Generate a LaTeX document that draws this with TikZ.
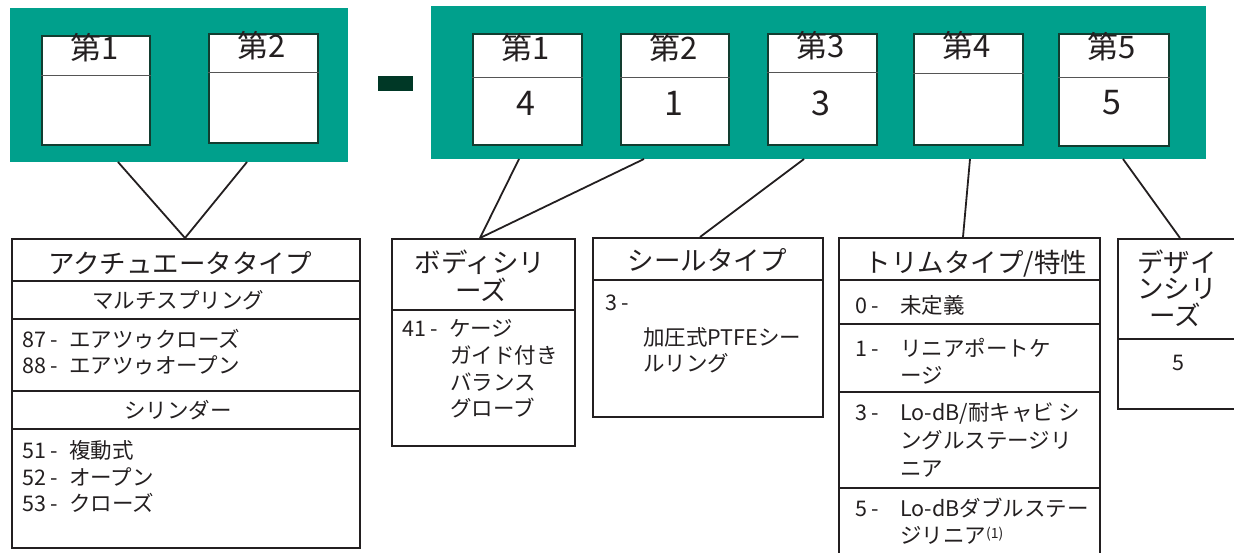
\documentclass[tikz,border=0pt]{standalone}
\usepackage{fontspec}
\setmainfont{Noto Sans CJK JP}
\definecolor{bandteal}{HTML}{00A08C}
\definecolor{boxdark}{HTML}{123D30}
\definecolor{dashgreen}{HTML}{003826}
\definecolor{ink}{HTML}{231F20}
\definecolor{divgray}{HTML}{555555}
\newcommand\itsep{ -\hspace{0.5em}}
\begin{document}
\begin{tikzpicture}[x=1pt,y=-1pt,
  txt/.style={inner sep=0pt, text=ink},
  ttl/.style={txt, font=\fontsize{26.5}{30}\selectfont, text height=23.3pt, text depth=3.2pt},
  itm/.style={txt, font=\fontsize{21.5}{26}\selectfont, text height=18.9pt, text depth=2.6pt, anchor=west},
  itmc/.style={txt, font=\fontsize{21.5}{26}\selectfont, text height=18.9pt, text depth=2.6pt},
  biglab/.style={txt, font=\fontsize{31}{34}\selectfont, text height=27.3pt, text depth=3.7pt},
  bignum/.style={txt, font=\fontsize{34}{38}\selectfont, text height=29.9pt, text depth=4.1pt},
  band/.style={fill=bandteal, draw=none, inner sep=0pt, anchor=north west},
  topbox/.style={fill=white, draw=boxdark, line width=2.2pt, inner sep=0pt, anchor=north west},
  topdiv/.style={draw=divgray, line width=1pt},
  selbox/.style={draw=ink, line width=2.4pt, inner sep=0pt, anchor=north west, fill=white},
  seldiv/.style={draw=ink, line width=1.2pt},
  conn/.style={draw=ink, line width=1.8pt}]
\useasboundingbox (0,0) rectangle (1234,552);
\clip (0,0) rectangle (1234,552);

% bands
\node[band, minimum width=338pt, minimum height=154pt] (bandL) at (10,8) {};
\node[band, minimum width=775pt, minimum height=153pt] (bandR) at (431,6) {};
\node[fill=dashgreen, inner sep=0pt, anchor=north west, minimum width=35pt, minimum height=15pt] (dash) at (378,76) {};

% top boxes (left)
\node[topbox, minimum width=108pt, minimum height=109pt] (L1) at (41,35) {};
\draw[topdiv] (L1.west |- 0,75) -- (L1.east |- 0,75);
\node[biglab] (L1t) at (95,48) {第1};
\node[topbox, minimum width=109pt, minimum height=109pt] (L2) at (208,33) {};
\draw[topdiv] (L2.west |- 0,72) -- (L2.east |- 0,72);
\node[biglab] (L2t) at (262,46) {第2};

% top boxes (right)
\node[topbox, minimum width=109pt, minimum height=111pt] (R1) at (472,33) {};
\draw[topdiv] (R1.west |- 0,77) -- (R1.east |- 0,77);
\node[biglab] (R1t) at (526,48) {第1};
\node[bignum] (R1n) at (526,103) {4};
\node[topbox, minimum width=108pt, minimum height=111pt] (R2) at (620,33) {};
\draw[topdiv] (R2.west |- 0,77) -- (R2.east |- 0,77);
\node[biglab] (R2t) at (674,48) {第2};
\node[bignum] (R2n) at (674,103) {1};
\node[topbox, minimum width=109pt, minimum height=111pt] (R3) at (767,33) {};
\draw[topdiv] (R3.west |- 0,72) -- (R3.east |- 0,72);
\node[biglab] (R3t) at (821,46) {第3};
\node[bignum] (R3n) at (821,103) {3};
\node[topbox, minimum width=109pt, minimum height=111pt] (R4) at (913,33) {};
\draw[topdiv] (R4.west |- 0,73) -- (R4.east |- 0,73);
\node[biglab] (R4t) at (967,46) {第4};
\node[topbox, minimum width=110pt, minimum height=112pt] (R5) at (1058,33) {};
\draw[topdiv] (R5.west |- 0,77) -- (R5.east |- 0,77);
\node[biglab] (R5t) at (1112,47) {第5};
\node[bignum] (R5n) at (1112,102) {5};

% connector end points
\coordinate (cL1) at (118,162);
\coordinate (cL2) at (247,162);
\coordinate (cR1) at (519,159);
\coordinate (cR2) at (644,159);
\coordinate (cR3) at (804,159);
\coordinate (cR4) at (970,159);
\coordinate (cR5) at (1123,159);
\coordinate (aAct) at (185,238);
\coordinate (aBody) at (480,238);
\coordinate (aSeal) at (700,237);
\coordinate (aTrim) at (963,237);
\coordinate (aDes) at (1180,238);
\draw[conn] (cL1) -- (aAct) -- (cL2);
\draw[conn] (cR1) -- (aBody) -- (cR2);
\draw[conn] (cR3) -- (aSeal);
\draw[conn] (cR4) -- (aTrim);
\draw[conn] (cR5) -- (aDes);

% actuator type box
\node[selbox, minimum width=348pt, minimum height=309pt] (act) at (11,238) {};
\foreach \yy in {281,319,391,429} \draw[seldiv] (act.west |- 0,\yy) -- (act.east |- 0,\yy);
\node[ttl] (actT) at (180,263) {アクチュエータタイプ};
\node[itmc] (actS1) at (178,300) {マルチスプリング};
\node[itm] (act87) at (22,339) {87\itsep エアツゥクローズ};
\node[itm] (act88) at (22,365) {88\itsep エアツゥオープン};
\node[itmc] (actS2) at (178,410) {シリンダー};
\node[itm] (act51) at (22,450) {51\itsep 複動式};
\node[itm] (act52) at (22,477) {52\itsep オープン};
\node[itm] (act53) at (22,503) {53\itsep クローズ};

% body series box
\node[selbox, minimum width=183pt, minimum height=207pt] (body) at (391,238) {};
\draw[seldiv] (body.west |- 0,310) -- (body.east |- 0,310);
\node[ttl] (bodyT1) at (480,262) {ボディシリ};
\node[ttl] (bodyT2) at (481,290) {ーズ};
\node[itm] (body41) at (402,328) {41\itsep ケージ};
\node[itm] (bodyL2) at (450,355) {ガイド付き};
\node[itm] (bodyL3) at (450,382) {バランス};
\node[itm] (bodyL4) at (450,408) {グローブ};

% seal type box
\node[selbox, minimum width=230pt, minimum height=179pt] (seal) at (592,237) {};
\draw[seldiv] (seal.west |- 0,280) -- (seal.east |- 0,280);
\node[ttl] (sealT) at (707,260) {シールタイプ};
\node[itm] (seal3) at (605,302) {3 -};
\node[itm] (sealL1) at (643,337) {加圧式PTFEシー};
\node[itm] (sealL2) at (643,363) {ルリング};

% trim type box
\node[selbox, minimum width=261pt, minimum height=333pt] (trim) at (838,237) {};
\foreach \yy in {280,324,392,488} \draw[seldiv] (trim.west |- 0,\yy) -- (trim.east |- 0,\yy);
\node[ttl] (trimT) at (976,262) {トリムタイプ/特性};
\node[itm] (trim0) at (855,305) {0 -};
\node[itm] (trim0t) at (900,305) {未定義};
\node[itm] (trim1) at (855,348) {1 -};
\node[itm] (trim1t) at (900,348) {リニアポートケ};
\node[itm] (trim1u) at (900,375) {ージ};
\node[itm] (trim3) at (855,412) {3 -};
\node[itm] (trim3t) at (900,412) {Lo-dB/耐キャビ シ};
\node[itm] (trim3u) at (900,440) {ングルステージリ};
\node[itm] (trim3v) at (900,468) {ニア};
\node[itm] (trim5) at (855,508) {5 -};
\node[itm] (trim5t) at (900,508) {Lo-dBダブルステー};
\node[itm] (trim5u) at (900,535) {ジリニア{\fontsize{14}{16}\selectfont\raisebox{5pt}{(1)}}};

% design series box
\node[selbox, minimum width=121pt, minimum height=170pt] (des) at (1117,238) {};
\draw[seldiv] (des.west |- 0,339) -- (des.east |- 0,339);
\node[ttl] (desT1) at (1177,262) {デザイ};
\node[ttl] (desT2) at (1177,288) {ンシリ};
\node[ttl] (desT3) at (1175,315) {ーズ};
\node[itmc] (des5) at (1178,362) {5};
\end{tikzpicture}
\end{document}
